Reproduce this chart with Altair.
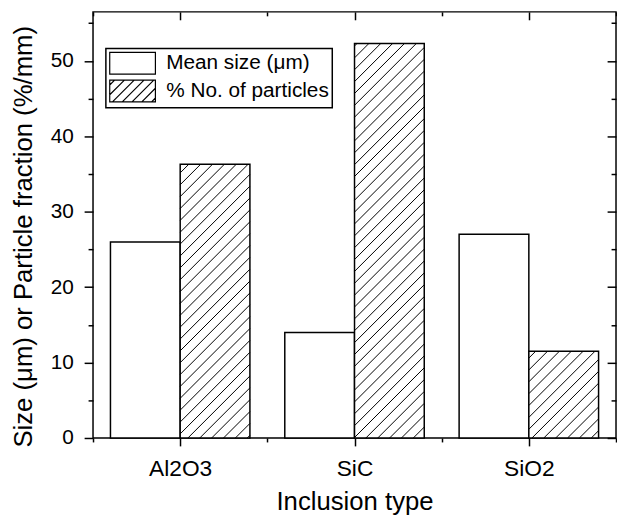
import altair as alt
import numpy as np
import pandas as pd

# ---- data ----
categories = ["Al2O3", "SiC", "SiO2"]
mean_size = [26.0, 14.0, 27.0]          # Mean size (um)
particle_pct = [36.3, 52.3, 11.5]       # % No. of particles
series = ["Mean size (\u03bcm)", "\u00a0% No. of particles"]

# ---- layout ----
W, H = 529, 431
YMAX = 56.5
FONT = "Liberation Sans"

# bar table
rows = []
for i, c in enumerate(categories):
    rows.append(dict(cat=c, series=series[0], x0=i + 0.1, x1=i + 0.5, value=mean_size[i]))
    rows.append(dict(cat=c, series=series[1], x0=i + 0.5, x1=i + 0.9, value=particle_pct[i]))
bars_df = pd.DataFrame(rows)
bars_df["xc"] = (bars_df.x0 + bars_df.x1) / 2

# hatch lines ("/" at 45 deg in pixel space) inside the hatched bars
sx, sy = W / 3.0, H / YMAX
S = 12.0
hrows = []
for i, v in enumerate(particle_pct):
    x0p, x1p, top = (i + 0.5) * sx, (i + 0.9) * sx, v * sy
    for k in range(int(np.floor((x0p - top) / S)), int(np.ceil(x1p / S)) + 1):
        c = k * S
        xa, xb = max(x0p, c), min(x1p, c + top)
        if xb > xa + 0.5:
            hrows.append(dict(hx=xa / sx, hx2=xb / sx, hy=(xa - c) / sy, hy2=(xb - c) / sy))
hatch_df = pd.DataFrame(hrows)

# legend symbol paths
A = 2.1
plain_path = f"M{-A},-1H{A}V1H{-A}Z"
segs = []
d = -A - 1 + 0.45
while d < A + 1:
    xa, xb = max(-A, d - 1), min(A, d + 1)
    if xb - xa > 0.05:
        segs.append(f"M{xa:.3f},{d - xa:.3f}L{xb:.3f},{d - xb:.3f}")
    d += 0.9
hatch_path = plain_path + "".join(segs)

xscale = alt.Scale(domain=[0, 3], nice=False, zero=False)
yscale = alt.Scale(domain=[0, YMAX], nice=False, zero=False)

xvals = [0, 0.5, 1, 1.5, 2, 2.5, 3]
yvals = list(range(0, 56, 5))
cat_js = "[" + ",".join(f"'{c}'" for c in categories) + "]"
x_minor = {"condition": {"test": "datum.value % 1 == 0", "value": [4, 40]}, "value": [40, 0]}
y_minor = {"condition": {"test": "datum.value % 10 != 0", "value": [5, 40]}, "value": [40, 0]}

bars = alt.Chart(bars_df).mark_bar(fill="white", stroke="black", strokeWidth=1.5).encode(
    x=alt.X("x0:Q", scale=xscale, axis=alt.Axis(
        orient="bottom", values=xvals, tickSize=8, tickDash=x_minor,
        labelExpr=f"datum.value % 1 == 0 ? '' : {cat_js}[floor(datum.value)]",
        labelFontSize=23, title="Inclusion type", labelPadding=12, titlePadding=8,
        titleFontSize=26)),
    x2="x1:Q",
    y=alt.Y("value:Q", scale=yscale, axis=alt.Axis(
        orient="left", values=yvals, tickSize=9, tickDash=y_minor,
        labelExpr="datum.value % 10 == 0 ? datum.label : ''", labelFontSize=21,
        title="Size (\u03bcm) or Particle fraction (%/mm)", labelPadding=11,
        titlePadding=14, titleFontSize=26, titleY=227, titleAlign="center")),
    y2=alt.datum(0),
)

hatch = alt.Chart(hatch_df).mark_rule(color="black", strokeWidth=1).encode(
    x=alt.X("hx:Q", scale=xscale, axis=None),
    x2="hx2:Q",
    y=alt.Y("hy:Q", scale=yscale, axis=None),
    y2="hy2:Q",
)

frame = alt.Chart(bars_df).mark_point(opacity=0, filled=False, color="black").encode(
    x=alt.X("xc:Q", scale=xscale, axis=alt.Axis(
        orient="bottom", offset=-H, values=xvals, tickSize=8, tickDash=x_minor,
        labels=False, title="")),
    y=alt.Y("value:Q", scale=yscale, axis=alt.Axis(
        orient="left", offset=-W, values=yvals, tickSize=9, tickDash=y_minor,
        labels=False, title="")),
    shape=alt.Shape("series:N", scale=alt.Scale(domain=series, range=[plain_path, hatch_path]),
                    legend=alt.Legend(title=None, orient="none", legendX=13, legendY=37,
                                      direction="vertical", symbolSize=484, symbolOffset=12,
                                      labelOffset=22, labelLimit=400)),
)

chart = alt.layer(bars, hatch, frame).resolve_axis(x="independent", y="independent").properties(
    width=W, height=H,
    padding={"left": 2, "top": 0, "right": 0, "bottom": 0},
).configure_view(stroke="black", strokeWidth=1.5).configure_axis(
    domain=False, grid=False, tickColor="black", tickWidth=1.5,
    labelFont=FONT, labelColor="black",
    titleFont=FONT, titleFontWeight="normal", titleColor="black",
).configure_legend(
    strokeColor="black", strokeWidth=1.5, padding=3, rowPadding=0,
    labelFont=FONT, labelFontSize=21, labelColor="black",
    symbolStrokeColor="black", symbolStrokeWidth=1.2, symbolFillColor="white",
    symbolOpacity=1,
)

chart.save("out.html", embed_options={"renderer": "svg", "actions": False})
